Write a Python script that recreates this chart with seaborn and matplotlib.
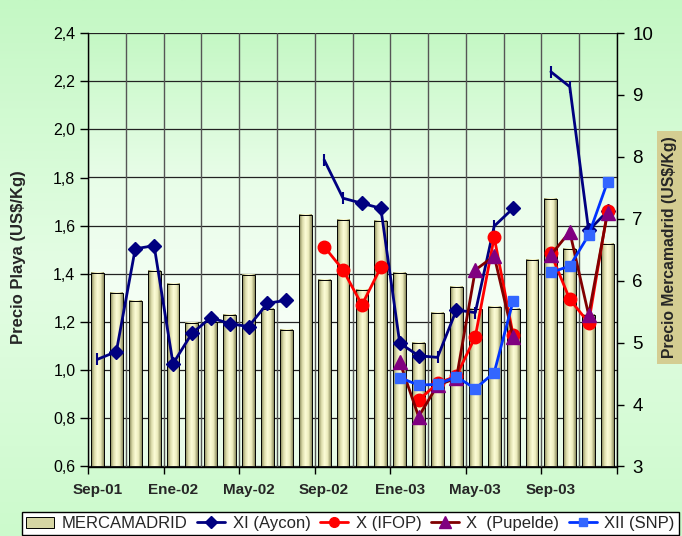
import numpy as np
import pandas as pd
import matplotlib
matplotlib.use("Agg")
import matplotlib.pyplot as plt
from matplotlib.colors import LinearSegmentedColormap
from matplotlib.lines import Line2D
from matplotlib.patches import Rectangle
from matplotlib.ticker import FuncFormatter
import seaborn as sns

# meses Sep-01 .. Dic-03
meses = ["Sep-01", "Oct-01", "Nov-01", "Dic-01", "Ene-02", "Feb-02", "Mar-02", "Abr-02",
         "May-02", "Jun-02", "Jul-02", "Ago-02", "Sep-02", "Oct-02", "Nov-02", "Dic-02",
         "Ene-03", "Feb-03", "Mar-03", "Abr-03", "May-03", "Jun-03", "Jul-03", "Ago-03",
         "Sep-03", "Oct-03", "Nov-03", "Dic-03"]
etiquetas_x = ["Sep-01", "Ene-02", "May-02", "Sep-02", "Ene-03", "May-03", "Sep-03"]

# precio Mercamadrid (eje derecho)
mercamadrid = [6.13, 5.80, 5.67, 6.16, 5.95, 5.32, 5.33, 5.45, 6.10, 5.54, 5.20, 7.06,
               6.01, 6.98, 5.85, 6.96, 6.12, 4.99, 5.48, 5.90, 5.54, 5.58, 5.55, 6.33,
               7.32, 6.52, 5.45, 6.60]

nan = np.nan
# precio playa (eje izquierdo)
aycon = [1.045, 1.077, 1.504, 1.517, 1.027, 1.153, 1.218, 1.193, 1.181, 1.278, 1.290, nan,
         1.873, 1.714, 1.693, 1.672, 1.112, 1.060, 1.053, 1.250, 1.239, 1.598, 1.672, nan,
         2.239, 2.177, 1.580, 1.660]
aycon_sin_rombo = [0, 12, 13, 18, 20, 21, 24, 25]
ifop = [nan] * 12 + [1.513, 1.416, 1.271, 1.427, nan, 0.876, 0.945, 0.976, 1.139, 1.552,
                     1.146, nan, 1.485, 1.294, 1.197, 1.662]
pupelde = [nan] * 16 + [1.035, 0.807, 0.938, 0.966, 1.416, 1.474, 1.139, nan,
                        1.478, 1.575, 1.229, 1.654]
snp = [nan] * 16 + [0.969, 0.938, 0.941, 0.973, 0.923, 0.990, 1.287, nan,
                    1.406, 1.432, 1.561, 1.782]

sns.set_theme(style="white")
plt.rcParams["font.family"] = ["Liberation Sans", "DejaVu Sans"]

fig = plt.figure(figsize=(6.82, 5.36), dpi=100)

# fondo verde degradado
bg = fig.add_axes([0, 0, 1, 1], zorder=-10)
bg_cmap = LinearSegmentedColormap.from_list("bg", ["#c4f8c4", "#e4fde4", "#ccfacc"])
bg.imshow(np.linspace(0, 1, 256).reshape(-1, 1), cmap=bg_cmap, aspect="auto", extent=[0, 1, 0, 1])
bg.axis("off")

ax = fig.add_axes([88 / 682, 69.5 / 536, 529 / 682, 433.5 / 536])
ax.set_facecolor("none")
area_cmap = LinearSegmentedColormap.from_list("area", ["#c4f8c4", "#e8fde8", "#f6fff6", "#e6fbe6"])
ax.imshow(np.linspace(0, 1, 256).reshape(-1, 1), cmap=area_cmap, aspect="auto",
          extent=[0, 1, 0, 1], transform=ax.transAxes, zorder=0)

df = pd.DataFrame({"mes": meses, "mercamadrid": mercamadrid})
sns.barplot(data=df, x="mes", y="mercamadrid", ax=ax, width=0.68, color="#eeeec0",
            edgecolor="black", linewidth=0.7, saturation=1, zorder=2)

ymin_der, ymax_der = 3, 10
ax.set_xlim(-0.5, len(meses) - 0.5)
ax.set_ylim(ymin_der, ymax_der)

# efecto cilindro en las barras
bar_cmap = LinearSegmentedColormap.from_list("bar", ["#7c7c50", "#dadaa8", "#fdfdd8", "#ececbe", "#8a8a5c"])
grad = np.linspace(0, 1, 64).reshape(1, -1)
for p in ax.patches:
    x0, w, h = p.get_x(), p.get_width(), p.get_height()
    ax.imshow(grad, cmap=bar_cmap, aspect="auto", extent=[x0, x0 + w, ymin_der, h], zorder=2.5)
    p.set_facecolor("none")
    p.set_zorder(3)
ax.set_xlim(-0.5, len(meses) - 0.5)
ax.set_ylim(ymin_der, ymax_der)

# rejilla (segun eje izquierdo)
for v in np.arange(0.6, 2.41, 0.2):
    ax.axhline(ymin_der + (v - 0.6) * 7 / 1.8, color="#222222", lw=0.9, zorder=1)
for k in range(0, 15):
    ax.axvline(-0.5 + 2 * k, color="#555555", lw=1.0, zorder=1)

pos_x = [meses.index(m) for m in etiquetas_x]
ax.set_xticks(pos_x)
ax.set_xticklabels(etiquetas_x, fontweight="bold", fontsize=11)
ax.set_xticks(np.arange(-0.5, len(meses), 4), minor=True)
ax.tick_params(axis="x", which="major", length=0, pad=12)
ax.tick_params(axis="x", which="minor", bottom=True, length=5, width=1, color="black")
ax.set_xlabel("")
for s in ["left", "bottom", "right"]:
    ax.spines[s].set_color("black")
    ax.spines[s].set_linewidth(1)
ax.spines["top"].set_visible(False)

ax2 = ax.twinx()
ax2.set_facecolor("none")

# eje derecho: Mercamadrid (despues de twinx)
ax.yaxis.tick_right()
ax.yaxis.set_label_position("right")
ax.set_yticks(range(3, 11))
ax.tick_params(axis="y", which="major", left=False, right=True, labelleft=False, labelright=True,
               length=5, width=1, pad=6, labelsize=13.5, colors="black")
ax.set_ylabel("Precio Mercamadrid (US$/Kg)", fontsize=11.3, fontweight="bold",
              bbox=dict(facecolor="#d4cd92", edgecolor="none", pad=4))
ax.yaxis.set_label_coords(1.086, 0.505)

# eje izquierdo: precio playa
ax2.yaxis.tick_left()
ax2.yaxis.set_label_position("left")
ax2.set_ylim(0.6, 2.4)
ax2.set_yticks(np.arange(0.6, 2.41, 0.2))
ax2.yaxis.set_major_formatter(FuncFormatter(lambda v, p: f"{v:.1f}".replace(".", ",")))
ax2.tick_params(axis="y", left=True, right=False, labelright=False, length=6, width=1, pad=3,
                labelsize=11.5, colors="black")
ax2.set_ylabel("Precio Playa (US$/Kg)", fontsize=12, fontweight="bold")
ax2.yaxis.set_label_coords(-0.117, 0.484)
ax2.set_xlim(-0.5, len(meses) - 0.5)
ax2.tick_params(axis="x", bottom=False, labelbottom=False)
for s in ax2.spines.values():
    s.set_visible(False)

x = np.arange(len(meses))
aycon_a = np.array(aycon)
con_rombo = [i for i in range(len(meses)) if i not in aycon_sin_rombo and not np.isnan(aycon_a[i])]

ax2.plot(x, aycon_a, color="#000080", lw=2, zorder=3)
ax2.plot(x[con_rombo], aycon_a[con_rombo], ls="none", marker="D", ms=7, color="#000080", zorder=3)
ax2.plot(x[aycon_sin_rombo], aycon_a[aycon_sin_rombo], ls="none", marker="|", ms=9, mew=1.5,
         color="#000080", zorder=3)
ax2.plot(x, ifop, color="#ff0000", lw=2, marker="o", ms=9, zorder=4)
ax2.plot(x, pupelde, color="#800000", lw=2, marker="^", ms=10, mfc="#800080", mec="#800080", zorder=5)
ax2.plot(x, snp, color="#0033ff", lw=2, marker="s", ms=7, mfc="#3366ff", mec="#3366ff", zorder=6)

handles = [
    Rectangle((0, 0), 1, 1, facecolor="#d6d6a4", edgecolor="black", lw=0.7),
    Line2D([], [], color="#000080", lw=2, marker="D", ms=6),
    Line2D([], [], color="#ff0000", lw=2, marker="o", ms=7),
    Line2D([], [], color="#800000", lw=2, marker="^", ms=8, mfc="#800080", mec="#800080"),
    Line2D([], [], color="#0033ff", lw=2, marker="s", ms=6, mfc="#3366ff", mec="#3366ff"),
]
labels = ["MERCAMADRID", "XI (Aycon)", "X (IFOP)", "X  (Pupelde)", "XII (SNP)"]
leg = fig.legend(handles, labels, loc="upper left", bbox_to_anchor=(22 / 682, 1 - 512 / 536),
                 ncol=5, fontsize=12, frameon=True, fancybox=False, framealpha=1,
                 handlelength=1.7, handletextpad=0.45, columnspacing=0.55, borderpad=0.25,
                 borderaxespad=0)
leg.get_frame().set_edgecolor("black")
leg.get_frame().set_facecolor("white")
leg.get_frame().set_linewidth(1)

fig.savefig("out.png", dpi=100)
